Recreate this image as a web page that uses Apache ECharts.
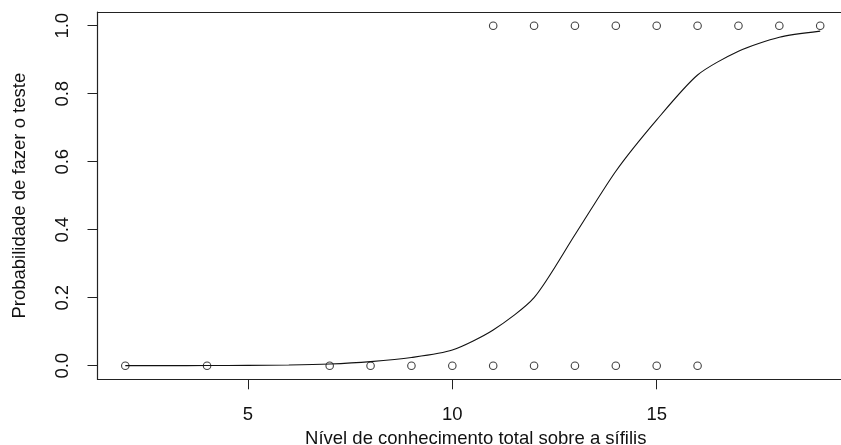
<!DOCTYPE html>
<html>
<head>
<meta charset="utf-8">
<script src="https://cdn.jsdelivr.net/npm/echarts@6/dist/echarts.min.js"></script>
<style>
html,body{margin:0;padding:0;background:#fff;}
#chart{width:841px;height:445px;}
</style>
</head>
<body>
<div id="chart"></div>
<script>
// Observed outcomes: did not take the test (0) / took the test (1)
var xTestNo = [2, 4, 7, 8, 9, 10, 11, 12, 13, 14, 15, 16];
var xTestYes = [11, 12, 13, 14, 15, 16, 17, 18, 19];
// Fitted probability curve
var curveX = [2, 3, 4, 5, 6, 7, 8, 9, 10, 11, 12, 13, 14, 15, 16, 17, 18, 19];
var curveP = [0.0001, 0.0002, 0.0005, 0.001, 0.002, 0.005, 0.012, 0.024, 0.046, 0.105, 0.20, 0.385, 0.572, 0.723, 0.855, 0.925, 0.966, 0.984];
var xTicks = [5, 10, 15];
var yTicks = [0, 0.2, 0.4, 0.6, 0.8, 1.0];
var xTitle = 'Nível de conhecimento total sobre a sífilis';
var yTitle = 'Probabilidade de fazer o teste';

var FONT = 'Liberation Sans, Arial, sans-serif';
var FS = 18.5;
var lineCol = '#222';

var chart = echarts.init(document.getElementById('chart'), null, {renderer: 'canvas'});
chart.setOption({
  animation: false,
  backgroundColor: '#fff',
  grid: {left: 97.5, right: -7, top: 12.1, bottom: 65.7, containLabel: false, outerBoundsMode: 'none'},
  xAxis: [{
    type: 'value', position: 'bottom', min: 1.32, max: 19.68,
    splitLine: {show: false},
    axisLine: {show: true, onZero: false, lineStyle: {color: lineCol, width: 1.2}},
    axisTick: {show: true, inside: false, length: 10, customValues: xTicks, lineStyle: {color: lineCol, width: 1}},
    axisLabel: {show: true, customValues: xTicks, margin: 26, fontFamily: FONT, fontSize: FS, color: '#111',
      formatter: function (v) { return String(v); }},
    name: xTitle, nameLocation: 'middle', nameGap: 47,
    nameTextStyle: {fontFamily: FONT, fontSize: FS, color: '#111', padding: [0, 0, 0, 6]}
  }, {
    type: 'value', position: 'top', min: 1.32, max: 19.68,
    splitLine: {show: false},
    axisLine: {show: true, onZero: false, lineStyle: {color: lineCol, width: 1.2}},
    axisTick: {show: false}, axisLabel: {show: false}
  }],
  yAxis: [{
    type: 'value', min: -0.04, max: 1.04,
    splitLine: {show: false},
    axisLine: {show: true, onZero: false, lineStyle: {color: lineCol, width: 1.2}},
    axisTick: {show: true, inside: false, length: 10, customValues: yTicks, lineStyle: {color: lineCol, width: 1}},
    axisLabel: {show: true, customValues: yTicks, rotate: 90, margin: 25, fontFamily: FONT, fontSize: FS, color: '#111',
      formatter: function (v) { return v.toFixed(1); }},
    name: yTitle, nameLocation: 'middle', nameGap: 68, nameRotate: 90,
    nameTextStyle: {fontFamily: FONT, fontSize: FS, color: '#111'}
  }],
  series: [{
    type: 'line',
    data: curveX.map(function (x, i) { return [x, curveP[i]]; }),
    showSymbol: false, symbol: 'none',
    smooth: 0.25,
    lineStyle: {color: '#111', width: 1.1},
    clip: true, silent: true
  }, {
    type: 'scatter',
    data: xTestNo.map(function (x) { return [x, 0]; }),
    symbol: 'circle', symbolSize: 7.5,
    itemStyle: {color: 'rgba(255,255,255,0)', borderColor: '#111', borderWidth: 1.1},
    silent: true
  }, {
    type: 'scatter',
    data: xTestYes.map(function (x) { return [x, 1]; }),
    symbol: 'circle', symbolSize: 7.5,
    itemStyle: {color: 'rgba(255,255,255,0)', borderColor: '#111', borderWidth: 1.1},
    silent: true
  }]
});
</script>
</body>
</html>
